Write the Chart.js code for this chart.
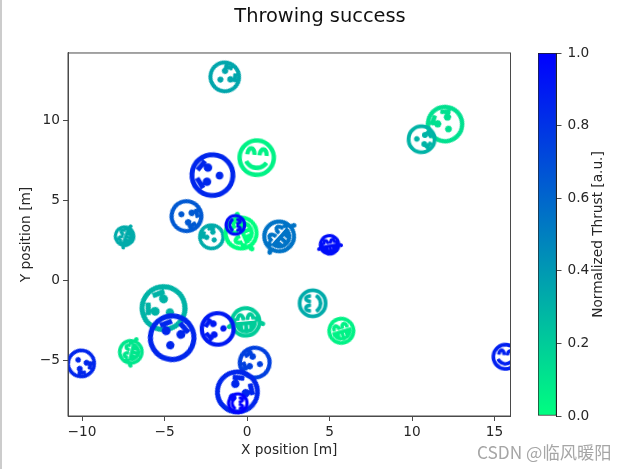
<!DOCTYPE html>
<html>
<head>
<meta charset="utf-8">
<script src="https://cdn.jsdelivr.net/npm/chart.js@4"></script>
<style>
html, body { margin: 0; padding: 0; background: #fff; overflow: hidden; width: 627px; height: 469px; }
#main { position: absolute; left: 0; top: 0; }
#cbar { position: absolute; left: 527px; top: 0; }
#strip { position: absolute; left: 0; top: 0; width: 2px; height: 469px; background: #ccc; }
#mark { position: absolute; left: 477px; top: 439px; font: 17.3px "Noto Sans CJK SC"; color: #a6a6a6; white-space: nowrap; }
</style>
</head>
<body>
<canvas id="main" width="627" height="469"></canvas>
<canvas id="cbar" width="100" height="469"></canvas>
<div id="strip"></div>
<div id="mark">CSDN @临风暖阳</div>
<script>
// values
const posX = [-1.35, 0.59, -5.07, -4.53, -2.11, -3.7, 12.0, 10.56, -7.45, -2.15, -0.28, -0.7, 1.88, 4.92, 4.0, 5.74, -0.22, -1.76, -10.06, -7.09, 0.5, -0.59, -0.55, 15.68];
const posY = [12.7, 7.65, -1.75, -3.58, 6.56, 4.0, 9.75, 8.8, 2.66, 2.7, 2.8, 3.44, 2.6, 2.19, -1.46, -3.2, -2.6, -3.06, -5.2, -4.6, -5.17, -7.0, -7.7, -4.83];
const skill = [8.9, 10.5, 13, 13.2, 12.4, 9.2, 10.5, 8.1, 5.9, 7.3, 9.5, 5.9, 9.2, 5.9, 8.1, 7.6, 8.6, 9.7, 8.1, 7, 9.2, 12.2, 5.9, 7.6];
const thrust = [0.35, 0.05, 0.3, 0.85, 0.85, 0.65, 0.12, 0.3, 0.33, 0.33, 0, 0.95, 0.55, 0.95, 0.33, 0.05, 0.2, 0.9, 0.85, 0.1, 0.75, 0.85, 1, 0.88];
const mood = [1, 2, 1, 1, 1, 1, 1, 1, 0, 1, 0, 2, 0, 0, 2, 3, 0, 1, 1, 0, 1, 1, 2, 2];
const takeoff = [-58, -5, 56, -14, 86, -111, 35, -94, 71, 40, 113, -90, 48, 10, 90, 17, 5, 95, -139, 77, 73, -42, -90, -5];
const moods = ['\u{1F602}', '\u{1F62F}', '\u{1F60A}', '\u{1F601}'];
const xTicks = [-10, -5, 0, 5, 10, 15];
const yTicks = [-5, 0, 5, 10];
const cbarTicks = [0, 0.2, 0.4, 0.6, 0.8, 1.0];
const xRange = [-10.85, 15.97];
const yRange = [-8.5, 14.19];

const tickFont = { family: 'DejaVu Sans', size: 13.7 };
const ink = '#262626';
const edge = '#4a4a4a';

function winterR(t) {
    return 'rgb(0,' + Math.round(255 * (1 - t)) + ',' + Math.round(127.5 + 127.5 * t) + ')';
}
const withMinus = v => String(v).replace('-', '\u2212');

// one marker: the glyph, stroked and filled like a matplotlib text marker
function makeMarker(glyph, radius, color) {
    const lw = 1.6;
    const size = Math.ceil(radius * 3 + 6);
    const c = document.createElement('canvas');
    c.width = size;
    c.height = size;
    const g = c.getContext('2d');
    g.font = '100px "DejaVu Sans"';
    // the plain ring of the hushed face sets scale and centre for all of them
    const m = g.measureText(moods[1]);
    const w = m.actualBoundingBoxLeft + m.actualBoundingBoxRight;
    const k = (radius * 2 - lw) / w;
    g.translate(size / 2, size / 2);
    g.scale(k, k);
    g.fillStyle = color;
    g.strokeStyle = color;
    g.lineWidth = lw / k;
    g.lineJoin = 'round';
    const ox = (m.actualBoundingBoxRight - m.actualBoundingBoxLeft) / 2;
    const oy = (m.actualBoundingBoxDescent - m.actualBoundingBoxAscent) / 2;
    g.fillText(glyph, -ox, -oy);
    g.strokeText(glyph, -ox, -oy);
    return c;
}

const colors = thrust.map(winterR);
const markers = skill.map((s, i) => makeMarker(moods[mood[i]], s * 1.85, colors[i]));

const setTicks = list => scale => { scale.ticks = list.map(v => ({ value: v })); };

// the figure title is centred on the whole figure, not on the plot
const frame = {
    id: 'frame',
    beforeDraw(chart) {
        chart.titleBlock.left = 0;
        chart.titleBlock.right = 640;
    },
    afterDatasetsDraw(chart) {
        const a = chart.chartArea;
        chart.ctx.save();
        chart.ctx.strokeStyle = edge;
        chart.ctx.lineWidth = 1;
        chart.ctx.strokeRect(a.left, a.top, a.right - a.left, a.bottom - a.top);
        chart.ctx.restore();
    }
};

new Chart(document.getElementById('main'), {
    type: 'scatter',
    data: {
        datasets: [{
            data: posX.map((x, i) => ({ x: x, y: posY[i] })),
            pointStyle: markers,
            rotation: takeoff.map(a => -a),
            pointRadius: skill.map(s => s * 1.85),
            backgroundColor: colors,
            borderColor: colors,
            clip: 0
        }]
    },
    options: {
        responsive: false,
        animation: false,
        layout: { padding: { right: 116.5 } },
        plugins: {
            legend: { display: false },
            tooltip: { enabled: false },
            title: {
                display: true,
                text: 'Throwing success',
                color: '#111',
                font: { family: 'DejaVu Sans', size: 19.4, weight: 'normal', lineHeight: 1.2 },
                padding: { top: 5, bottom: 24.7 }
            }
        },
        scales: {
            x: {
                min: xRange[0],
                max: xRange[1],
                afterBuildTicks: setTicks(xTicks),
                afterFit: s => { s.height = 53; },
                grid: { drawOnChartArea: false, tickLength: 5, tickColor: edge },
                border: { color: edge },
                ticks: { font: tickFont, color: ink, padding: 3, maxRotation: 0, autoSkip: false, callback: withMinus },
                title: { display: true, text: 'X position [m]', color: ink, font: tickFont, padding: { top: 0, bottom: 10 } }
            },
            y: {
                min: yRange[0],
                max: yRange[1],
                afterBuildTicks: setTicks(yTicks),
                afterFit: s => { s.width = 68; },
                grid: { drawOnChartArea: false, tickLength: 5, tickColor: edge },
                border: { color: edge },
                ticks: { font: tickFont, color: ink, padding: 3, autoSkip: false, callback: withMinus },
                title: { display: true, text: 'Y position [m]', color: ink, font: tickFont, padding: { top: 18, bottom: 0 } }
            }
        }
    },
    plugins: [frame]
});

// colour bar
const cbarTitle = {
    id: 'cbarTitle',
    afterDraw(chart) {
        const a = chart.chartArea;
        const ctx = chart.ctx;
        ctx.save();
        ctx.translate(71, (a.top + a.bottom) / 2);
        ctx.rotate(-Math.PI / 2);
        ctx.font = '13.7px "DejaVu Sans"';
        ctx.fillStyle = ink;
        ctx.textAlign = 'center';
        ctx.textBaseline = 'middle';
        ctx.fillText('Normalized Thrust [a.u.]', 0, 0);
        ctx.restore();
    }
};

new Chart(document.getElementById('cbar'), {
    type: 'bar',
    data: {
        labels: ['thrust'],
        datasets: [{
            data: [cbarTicks[cbarTicks.length - 1]],
            barPercentage: 1,
            categoryPercentage: 1,
            borderWidth: 1,
            borderColor: '#222',
            borderSkipped: false,
            backgroundColor(ctx) {
                const a = ctx.chart.chartArea;
                if (!a) return winterR(0.5);
                const grad = ctx.chart.ctx.createLinearGradient(0, a.bottom, 0, a.top);
                grad.addColorStop(0, winterR(0));
                grad.addColorStop(1, winterR(1));
                return grad;
            }
        }]
    },
    options: {
        responsive: false,
        animation: false,
        layout: { padding: { left: 11, top: 53, bottom: 53 } },
        plugins: { legend: { display: false }, tooltip: { enabled: false } },
        scales: {
            x: { display: false },
            y: {
                position: 'right',
                min: 0,
                max: 1,
                afterBuildTicks: setTicks(cbarTicks),
                afterFit: s => { s.width = 70.5; },
                grid: { drawOnChartArea: false, tickLength: 5, tickColor: edge },
                border: { color: '#222' },
                ticks: { font: tickFont, color: ink, padding: 6, callback: v => v.toFixed(1) }
            }
        }
    },
    plugins: [cbarTitle]
});
</script>
</body>
</html>
